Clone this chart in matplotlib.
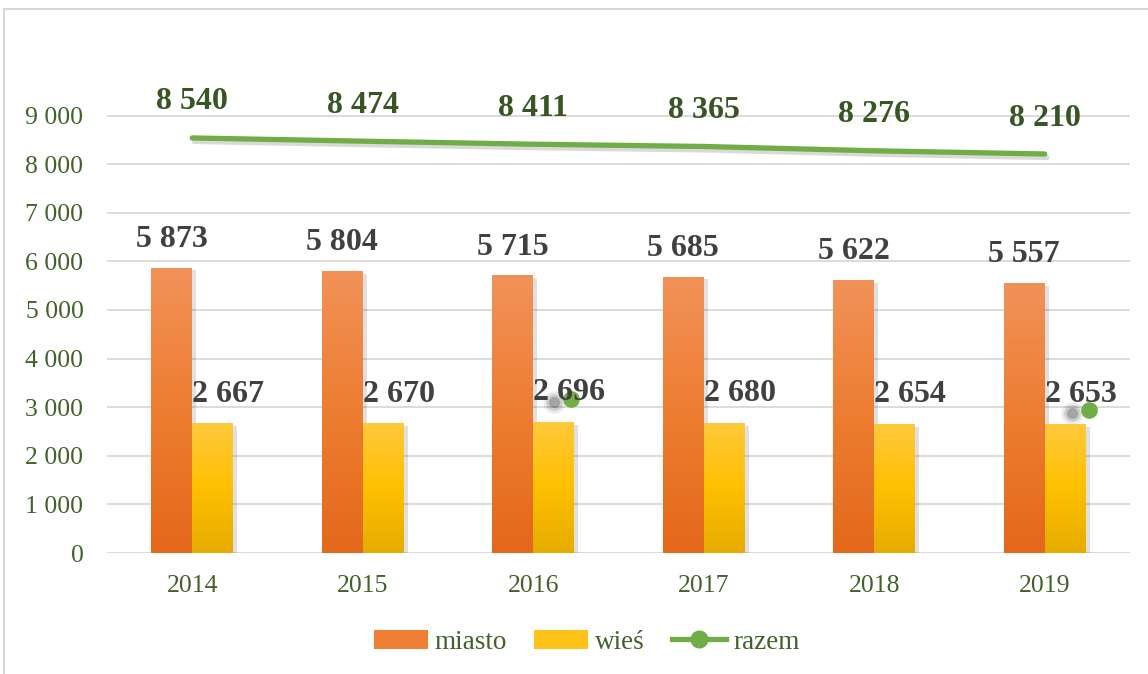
import numpy as np
import matplotlib
matplotlib.use("Agg")
import matplotlib.pyplot as plt
import matplotlib.patheffects as pe
from matplotlib.colors import LinearSegmentedColormap
from matplotlib.lines import Line2D
from matplotlib.patches import Patch

# dane
lata = ["2014", "2015", "2016", "2017", "2018", "2019"]
miasto = [5873, 5804, 5715, 5685, 5622, 5557]
wies = [2667, 2670, 2696, 2680, 2654, 2653]
razem = [8540, 8474, 8411, 8365, 8276, 8210]
# pojedyncze zielone znaczniki widoczne na oryginale
znaczniki_x = [2.22, 5.26]
znaczniki_y = [3170, 2940]

plt.rcParams['font.family'] = ['Liberation Serif', 'DejaVu Serif']

zielony_txt = '#375623'
szary_txt = '#404040'

def fmt(v):
    return f"{v:,}".replace(",", " ")

fig = plt.figure(figsize=(11.48, 6.74), dpi=100)
ax = fig.add_axes([107 / 1148, 1 - 553 / 674, 1023 / 1148, 486 / 674])

x = np.arange(len(lata))
w = 0.24

cm_miasto = LinearSegmentedColormap.from_list('m', ['#E4681B', '#ED7D31', '#F29259'])
cm_wies = LinearSegmentedColormap.from_list('w', ['#E5AC00', '#FFC000', '#FFC93D'])
grad = np.linspace(1, 0, 256).reshape(-1, 1)

cien = [pe.SimplePatchShadow(offset=(3, -2), shadow_rgbFace='k', alpha=0.12), pe.Normal()]

bars_m = ax.bar(x - w / 2, miasto, w, color='#ED7D31', zorder=2, path_effects=cien)
bars_w = ax.bar(x + w / 2, wies, w, color='#FFC000', zorder=2, path_effects=cien)

for bars, cmap in ((bars_m, cm_miasto), (bars_w, cm_wies)):
    for b in bars:
        x0, h = b.get_x(), b.get_height()
        im = ax.imshow(grad, extent=[x0, x0 + b.get_width(), 0, h], aspect='auto',
                       cmap=cmap, zorder=2.5, interpolation='bicubic')
        im.set_clip_path(b)

ax.plot(x, razem, color='#70AD47', lw=3.8, solid_capstyle='round', zorder=4,
        path_effects=[pe.SimpleLineShadow(offset=(1.5, -2.5), shadow_color='k', alpha=0.15),
                      pe.Normal()])
# rozmyty cien znacznikow
for ms, a in ((16, 0.08), (12, 0.12), (8, 0.2)):
    ax.plot([v - 0.1 for v in znaczniki_x], [v - 60 for v in znaczniki_y], 'o', color='k',
            alpha=a, ms=ms, mew=0, zorder=4.5)
ax.plot(znaczniki_x, znaczniki_y, 'o', color='#70AD47', ms=12, mew=0, zorder=5)

for i in x:
    ax.text(i - w / 2, miasto[i] + 280, fmt(miasto[i]), ha='center', va='bottom',
            fontsize=23, fontweight='bold', color=szary_txt, zorder=6)
    ax.text(i + w / 2 + 0.09, wies[i] + 300, fmt(wies[i]), ha='center', va='bottom',
            fontsize=23, fontweight='bold', color=szary_txt, zorder=6)
    ax.text(i, razem[i] + 740, fmt(razem[i]), ha='center', va='center',
            fontsize=23, fontweight='bold', color=zielony_txt, zorder=6)

ax.set_xlim(-0.5, len(lata) - 0.5)
ax.set_ylim(0, 10000)
ax.set_yticks(range(0, 10000, 1000))
ax.set_yticklabels([fmt(v) for v in range(0, 10000, 1000)])
ax.set_xticks(x)
ax.set_xticklabels(lata)
ax.tick_params(axis='both', length=0, labelsize=18.5, labelcolor='#41622B')
ax.tick_params(axis='x', pad=16)
ax.tick_params(axis='y', pad=17)
ax.grid(axis='y', color='#D9D9D9', lw=1.3)
ax.set_axisbelow(True)
for s in ax.spines.values():
    s.set_visible(False)

# ramka wykresu
fig.add_artist(Line2D([4 / 1148, 4 / 1148], [0, 1 - 9 / 674], color='#D9D9D9', lw=1.5))
fig.add_artist(Line2D([4 / 1148, 1], [1 - 9 / 674, 1 - 9 / 674], color='#D9D9D9', lw=1.5))

uchwyty = [Patch(facecolor='#EF7F35', label='miasto'),
           Patch(facecolor='#FFC218', label='wieś'),
           Line2D([], [], color='#70AD47', lw=3.8, marker='o', ms=12, label='razem')]
leg = fig.legend(handles=uchwyty, loc='center', bbox_to_anchor=(0.511, 0.047), ncol=3,
                 frameon=False, fontsize=19.5, handlelength=2.0, handletextpad=0.25,
                 columnspacing=1.0)
for t in leg.get_texts():
    t.set_color('#41622B')

fig.savefig('out.png', dpi=100)
